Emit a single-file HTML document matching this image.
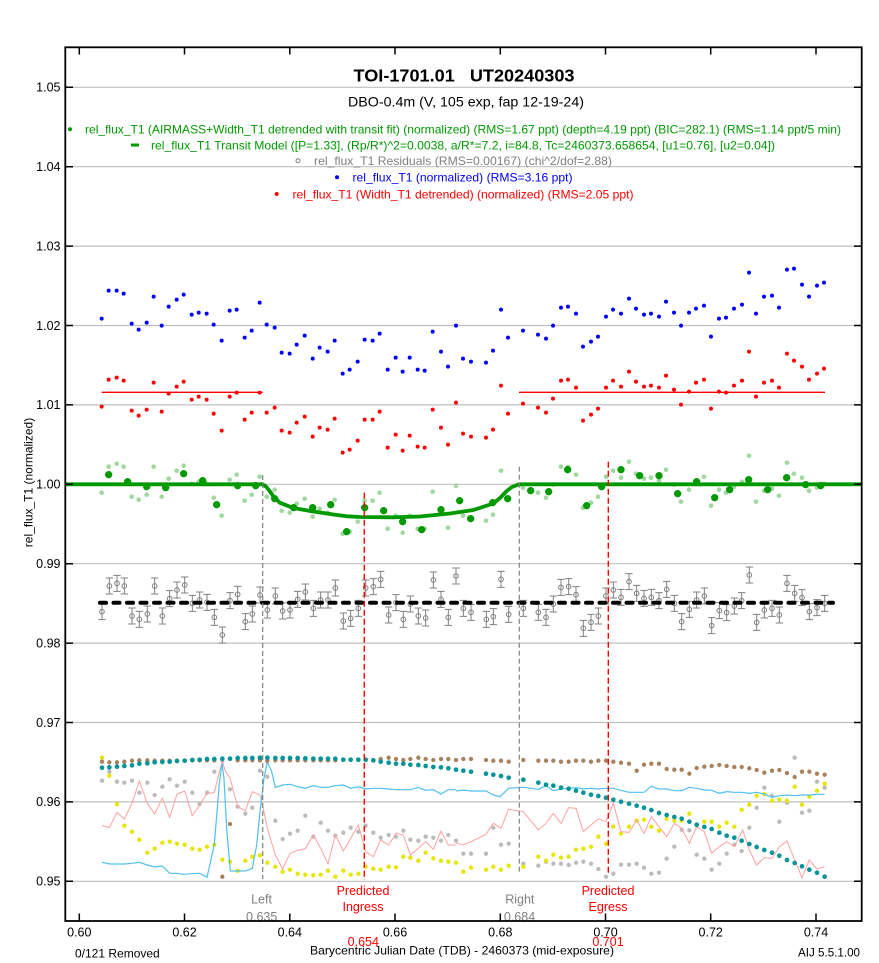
<!DOCTYPE html>
<html><head><meta charset="utf-8"><style>
html,body{margin:0;padding:0;background:#fff;}
svg{display:block;font-family:"Liberation Sans",Arial,sans-serif;}
</style></head><body>
<svg width="879" height="963" viewBox="0 0 879 963" xmlns="http://www.w3.org/2000/svg">
<rect width="879" height="963" fill="#fff"/>
<defs>
<g id="eb" fill="none" stroke="#808080" stroke-width="3"><path d="M-11-24h22M0-24v48M-11 24h22"/><circle r="7"/></g>
</defs>
<!-- grid -->
<g stroke="#c0c0c0" stroke-width="1.2">
<path d="M66 87.3H861M66 166.7H861M66 246.1H861M66 325.5H861M66 404.9H861M66 484.3H861M66 563.7H861M66 643.1H861M66 722.5H861M66 801.9H861M66 881.3H861"/>
</g>
<!-- titles -->
<text x="353.5" y="81.7" font-size="17.5" font-weight="bold" textLength="221" lengthAdjust="spacingAndGlyphs">TOI-1701.01&#160;&#160;&#160;UT20240303</text>
<text x="348" y="106.7" font-size="14" textLength="236" lengthAdjust="spacingAndGlyphs">DBO-0.4m (V, 105 exp, fap 12-19-24)</text>
<!-- legend -->
<circle cx="70" cy="129.3" r="2" fill="#009900"/>
<text x="85" y="133.6" font-size="12" fill="#009900" textLength="756" lengthAdjust="spacingAndGlyphs">rel_flux_T1 (AIRMASS+Width_T1 detrended with transit fit) (normalized) (RMS=1.67 ppt) (depth=4.19 ppt) (BIC=282.1) (RMS=1.14 ppt/5 min)</text>
<rect x="131" y="143.5" width="8" height="3" fill="#009900"/>
<text x="151" y="149.4" font-size="12" fill="#009900" textLength="624" lengthAdjust="spacingAndGlyphs">rel_flux_T1 Transit Model ([P=1.33], (Rp/R*)^2=0.0038, a/R*=7.2, i=84.8, Tc=2460373.658654, [u1=0.76], [u2=0.04])</text>
<circle cx="298" cy="160.7" r="2" fill="none" stroke="#808080" stroke-width="1"/>
<text x="314" y="165" font-size="12" fill="#808080" textLength="298" lengthAdjust="spacingAndGlyphs">rel_flux_T1 Residuals (RMS=0.00167) (chi^2/dof=2.88)</text>
<circle cx="337" cy="177.3" r="2" fill="#0000ff"/>
<text x="352.5" y="181.6" font-size="12" fill="#0000ff" textLength="220" lengthAdjust="spacingAndGlyphs">rel_flux_T1 (normalized) (RMS=3.16 ppt)</text>
<circle cx="276.7" cy="194" r="2" fill="#ff0000"/>
<text x="292.5" y="198.3" font-size="12" fill="#ff0000" textLength="341" lengthAdjust="spacingAndGlyphs">rel_flux_T1 (Width_T1 detrended) (normalized) (RMS=2.05 ppt)</text>

<!-- bottom series -->
<g transform="translate(60,745) scale(0.333333)" fill="none" stroke-linecap="round">
<path stroke="#bbbbbb" stroke-width="13" d="M126 107h0M148 80h0M171 110h0M193 113h0M216 107h0M238 143h0M262 113h0M284 150h0M307 125h0M329 103h0M351 122h0M374 110h0M397 143h0M419 177h0M441 143h0M463 80h0M487 48h0M510 133h0M533 185h0M556 206h0M577 188h0M600 77h0M622 95h0M646 227h0M668 282h0M690 266h0M713 257h0M736 212h0M760 275h0M782 233h0M804 257h0M826 272h0M850 263h0M872 248h0M895 260h0M917 242h0M940 263h0M962 278h0M986 270h0M1008 275h0M1030 257h0M1051 284h0M1075 287h0M1097 275h0M1120 278h0M1143 287h0M1165 270h0"/>
<path stroke="#e6e600" stroke-width="13" d="M126 38h0M148 92h0M171 178h0M193 242h0M216 260h0M238 284h0M262 323h0M284 311h0M307 293h0M329 290h0M351 296h0M374 299h0M397 311h0M419 314h0M441 305h0M463 299h0M487 344h0M510 350h0M533 377h0M556 347h0M577 335h0M600 331h0M622 353h0M646 365h0M668 380h0M690 374h0M713 386h0M736 389h0M760 391h0M782 389h0M804 377h0M826 395h0M850 377h0M872 389h0M895 386h0M917 365h0M940 371h0M962 374h0M986 365h0M1008 367h0M1030 335h0M1051 338h0M1075 347h0M1097 323h0M1120 340h0M1143 347h0M1165 350h0"/>
<polyline vector-effect="non-scaling-stroke" stroke="#ffa0a0" stroke-width="1" stroke-linecap="butt" points="126,242 148,248 171,202 193,222 216,175 238,108 262,175 284,207 307,160 329,217 351,147 374,138 397,212 419,180 441,145 463,143 478,80 487,50 497,80 510,100 533,185 556,197 577,140 600,150 612,200 622,250 646,330 668,372 690,325 713,316 736,311 760,270 782,310 804,356 826,270 850,318 872,280 895,240 917,320 940,335 962,285 986,300 1008,265 1030,270 1051,330 1075,310 1097,290 1120,313 1143,258 1165,300 1188,300"/>
<polyline vector-effect="non-scaling-stroke" stroke="#50c0f0" stroke-width="1.2" stroke-linecap="butt" points="126,352 150,357 171,357 193,357 216,355 238,352 262,360 284,366 307,363 329,385 351,385 374,388 397,386 419,385 441,397 463,298 478,115 486,55 492,100 500,250 511,378 533,378 556,378 577,370 590,300 600,200 612,100 622,50 635,80 646,127 668,120 690,118 713,125 736,130 760,122 782,127 804,127 826,122 850,120 872,130 895,125 917,132 940,130 962,130 986,132 1008,134 1030,134 1051,134 1075,127 1097,136 1120,134 1143,147 1165,134 1188,134"/>
<path stroke="#a8805c" stroke-width="13" d="M126 50h0M148 52h0M171 52h0M193 50h0M216 47h0M238 46h0M262 46h0M284 47h0M307 47h0M329 47h0M351 47h0M374 47h0M397 46h0M419 46h0M441 46h0M463 46h0M487 395h0M510 237h0M533 46h0M556 46h0M577 46h0M600 46h0M622 48h0M646 46h0M668 46h0M690 46h0M713 46h0M736 46h0M760 46h0M782 46h0M804 46h0M826 46h0M850 44h0M872 44h0M895 44h0M917 44h0M940 46h0M962 42h0M986 38h0M1008 42h0M1030 45h0M1051 42h0M1075 38h0M1097 42h0M1120 45h0M1143 42h0M1165 42h0"/>
<path stroke="#009499" stroke-width="14" d="M126 68h0M148 67h0M171 65h0M193 63h0M216 61h0M238 56h0M262 55h0M284 52h0M307 51h0M329 50h0M351 48h0M374 47h0M397 45h0M419 44h0M441 42h0M463 42h0M487 41h0M510 41h0M533 39h0M556 39h0M577 39h0M600 38h0M622 38h0M646 39h0M668 39h0M690 39h0M713 39h0M736 40h0M760 41h0M782 41h0M804 41h0M826 41h0M850 44h0M872 44h0M895 44h0M917 44h0M940 46h0M962 50h0M986 53h0M1008 56h0M1030 56h0M1051 59h0M1075 60h0M1097 63h0M1120 66h0M1143 67h0M1165 70h0"/>
</g>
<g transform="translate(450,745) scale(0.333333)" fill="none" stroke-linecap="round">
<path stroke="#bbbbbb" stroke-width="13" d="M18 287h0M40 326h0M63 326h0M108 326h0M130 248h0M153 299h0M176 296h0M220 356h0M265 362h0M288 350h0M310 356h0M333 356h0M356 360h0M378 353h0M400 350h0M423 356h0M445 372h0M468 395h0M490 386h0M513 359h0M537 359h0M560 356h0M582 368h0M604 386h0M627 383h0M650 341h0M673 305h0M695 254h0M718 256h0M740 329h0M763 341h0M785 374h0M808 356h0M830 326h0M853 299h0M875 318h0M898 248h0M920 188h0M943 128h0M966 152h0M988 230h0M1011 173h0M1034 38h0M1056 203h0M1078 197h0M1101 110h0M1124 128h0"/>
<path stroke="#e6e600" stroke-width="13" d="M18 353h0M40 380h0M63 368h0M108 374h0M130 365h0M153 374h0M176 362h0M220 365h0M265 335h0M288 347h0M310 329h0M333 338h0M356 335h0M378 314h0M400 311h0M423 305h0M445 275h0M468 296h0M490 245h0M513 266h0M537 245h0M560 227h0M582 224h0M604 245h0M627 257h0M650 221h0M673 227h0M695 227h0M718 206h0M740 239h0M763 230h0M785 230h0M808 245h0M830 233h0M853 245h0M875 194h0M898 179h0M920 152h0M943 147h0M966 167h0M988 164h0M1011 167h0M1034 125h0M1056 179h0M1078 155h0M1101 137h0M1124 116h0"/>
<polyline vector-effect="non-scaling-stroke" stroke="#ffa0a0" stroke-width="1" stroke-linecap="butt" points="18,293 40,300 63,290 108,268 130,235 153,250 176,193 220,200 265,255 288,235 310,205 333,235 356,188 378,190 400,260 423,240 445,222 468,230 490,175 513,260 537,262 560,225 582,265 604,215 627,245 650,275 673,235 695,250 718,295 740,245 763,260 785,325 808,305 830,290 853,305 878,255 898,315 920,360 943,338 966,340 988,305 1011,288 1034,345 1056,398 1078,345 1101,372 1124,365"/>
<polyline vector-effect="non-scaling-stroke" stroke="#50c0f0" stroke-width="1.2" stroke-linecap="butt" points="18,138 40,135 63,138 108,138 130,150 150,155 176,130 220,127 245,130 265,133 288,122 310,137 333,132 356,130 378,128 400,132 423,130 445,132 468,130 490,130 513,136 537,142 560,142 582,142 604,124 627,132 650,132 673,137 695,137 718,127 740,130 763,135 785,136 808,145 830,140 853,142 875,142 898,145 920,142 943,147 966,157 988,152 1011,150 1034,152 1056,150 1078,150 1101,148 1124,148"/>
<path stroke="#a8805c" stroke-width="13" d="M18 45h0M40 42h0M63 42h0M108 45h0M130 47h0M153 47h0M176 50h0M220 45h0M265 47h0M288 47h0M310 47h0M333 50h0M356 50h0M378 47h0M400 47h0M423 50h0M445 47h0M468 47h0M490 50h0M513 53h0M537 56h0M560 77h0M582 59h0M604 56h0M627 56h0M650 72h0M673 74h0M695 74h0M718 86h0M740 69h0M763 65h0M785 63h0M808 60h0M830 63h0M853 66h0M875 66h0M898 70h0M920 75h0M943 83h0M966 77h0M988 75h0M1011 84h0M1034 96h0M1056 80h0M1078 80h0M1101 86h0M1124 89h0"/>
<path stroke="#009499" stroke-width="14" d="M18 74h0M40 77h0M63 80h0M108 86h0M130 89h0M153 93h0M176 98h0M220 104h0M265 113h0M288 119h0M310 122h0M333 128h0M356 131h0M378 137h0M400 143h0M423 149h0M445 153h0M468 158h0M490 164h0M513 170h0M537 176h0M560 182h0M582 188h0M604 195h0M627 204h0M650 210h0M673 216h0M695 221h0M718 230h0M740 239h0M763 246h0M785 252h0M808 263h0M830 272h0M853 278h0M875 287h0M898 297h0M920 306h0M943 315h0M966 323h0M988 332h0M1011 345h0M1034 354h0M1056 364h0M1078 374h0M1101 383h0M1124 395h0"/>
</g>

<!-- residuals -->
<g transform="translate(60,560) scale(0.333333)">
<use href="#eb" x="126" y="155"/><use href="#eb" x="148" y="78"/><use href="#eb" x="171" y="70"/><use href="#eb" x="193" y="78"/><use href="#eb" x="216" y="168"/><use href="#eb" x="238" y="178"/><use href="#eb" x="262" y="162"/><use href="#eb" x="284" y="78"/><use href="#eb" x="307" y="168"/><use href="#eb" x="329" y="116"/><use href="#eb" x="351" y="90"/><use href="#eb" x="374" y="75"/><use href="#eb" x="397" y="130"/><use href="#eb" x="419" y="120"/><use href="#eb" x="441" y="127"/><use href="#eb" x="463" y="172"/><use href="#eb" x="487" y="225"/><use href="#eb" x="510" y="122"/><use href="#eb" x="533" y="103"/><use href="#eb" x="556" y="185"/><use href="#eb" x="577" y="162"/><use href="#eb" x="600" y="105"/><use href="#eb" x="622" y="150"/><use href="#eb" x="646" y="108"/><use href="#eb" x="668" y="153"/><use href="#eb" x="690" y="150"/><use href="#eb" x="713" y="118"/><use href="#eb" x="736" y="96"/><use href="#eb" x="760" y="145"/><use href="#eb" x="782" y="120"/><use href="#eb" x="804" y="120"/><use href="#eb" x="826" y="84"/><use href="#eb" x="850" y="183"/><use href="#eb" x="872" y="175"/><use href="#eb" x="895" y="145"/><use href="#eb" x="917" y="84"/><use href="#eb" x="940" y="80"/><use href="#eb" x="962" y="58"/><use href="#eb" x="986" y="165"/><use href="#eb" x="1008" y="128"/><use href="#eb" x="1030" y="178"/><use href="#eb" x="1051" y="132"/><use href="#eb" x="1075" y="168"/><use href="#eb" x="1097" y="174"/><use href="#eb" x="1120" y="60"/><use href="#eb" x="1143" y="118"/><use href="#eb" x="1165" y="172"/>
</g>
<g transform="translate(450,560) scale(0.333333)">
<use href="#eb" x="18" y="48"/><use href="#eb" x="40" y="145"/><use href="#eb" x="63" y="157"/><use href="#eb" x="109" y="178"/><use href="#eb" x="130" y="170"/><use href="#eb" x="153" y="58"/><use href="#eb" x="176" y="163"/><use href="#eb" x="220" y="145"/><use href="#eb" x="265" y="157"/><use href="#eb" x="288" y="172"/><use href="#eb" x="310" y="132"/><use href="#eb" x="333" y="82"/><use href="#eb" x="356" y="80"/><use href="#eb" x="378" y="104"/><use href="#eb" x="400" y="205"/><use href="#eb" x="423" y="187"/><use href="#eb" x="445" y="168"/><use href="#eb" x="468" y="108"/><use href="#eb" x="490" y="90"/><use href="#eb" x="513" y="112"/><use href="#eb" x="537" y="65"/><use href="#eb" x="560" y="100"/><use href="#eb" x="582" y="115"/><use href="#eb" x="604" y="112"/><use href="#eb" x="627" y="122"/><use href="#eb" x="650" y="88"/><use href="#eb" x="673" y="130"/><use href="#eb" x="695" y="185"/><use href="#eb" x="718" y="148"/><use href="#eb" x="740" y="120"/><use href="#eb" x="763" y="108"/><use href="#eb" x="785" y="197"/><use href="#eb" x="808" y="152"/><use href="#eb" x="830" y="158"/><use href="#eb" x="853" y="138"/><use href="#eb" x="875" y="122"/><use href="#eb" x="898" y="45"/><use href="#eb" x="920" y="187"/><use href="#eb" x="943" y="150"/><use href="#eb" x="966" y="145"/><use href="#eb" x="988" y="165"/><use href="#eb" x="1011" y="70"/><use href="#eb" x="1034" y="100"/><use href="#eb" x="1056" y="113"/><use href="#eb" x="1078" y="155"/><use href="#eb" x="1101" y="143"/><use href="#eb" x="1124" y="130"/>
</g>
<path d="M100 602.7H833" stroke="#000" stroke-width="4" stroke-dasharray="6,7.5" stroke-linecap="round" fill="none"/>

<!-- red fit lines -->
<path d="M101.7 392.3H262.7M519 392.3H825" stroke="#ff0000" stroke-width="1.3" fill="none"/>

<!-- main series left -->
<g transform="translate(60,250) scale(0.333333)" fill="none" stroke-linecap="round">
<path stroke="#0000ff" stroke-width="12" d="M125 206h0M146 122h0M170 122h0M191 131h0M215 221h0M236 239h0M260 218h0M281 140h0M305 227h0M326 170h0M350 149h0M371 134h0M395 194h0M416 188h0M440 191h0M461 224h0M485 272h0M509 182h0M530 179h0M554 263h0M575 242h0M599 158h0M620 224h0M644 233h0M665 308h0M689 311h0M710 284h0M734 257h0M758 326h0M779 293h0M803 305h0M824 272h0M848 371h0M869 359h0M893 335h0M914 269h0M938 272h0M959 251h0M983 359h0M1007 323h0M1028 365h0M1049 323h0M1073 359h0M1094 362h0M1118 245h0"/>
<path stroke="#ff0000" stroke-width="12" d="M125 470h0M146 389h0M170 383h0M191 392h0M215 482h0M236 497h0M260 479h0M281 398h0M305 485h0M326 431h0M350 410h0M371 395h0M395 449h0M416 440h0M440 449h0M461 491h0M485 542h0M509 440h0M530 428h0M554 509h0M575 488h0M599 428h0M620 488h0M644 473h0M665 542h0M689 548h0M710 518h0M734 500h0M758 560h0M779 533h0M803 539h0M824 506h0M848 608h0M869 599h0M893 572h0M914 509h0M938 509h0M959 485h0M983 593h0M1007 554h0M1028 602h0M1049 557h0M1073 590h0M1094 593h0M1118 479h0"/>
<path stroke="#a0d8a0" stroke-width="14" d="M125 728h0M146 650h0M170 641h0M191 650h0M215 740h0M236 749h0M260 734h0M281 650h0M305 740h0M326 686h0M350 662h0M371 647h0M395 701h0M416 695h0M440 701h0M461 743h0M485 797h0M509 689h0M530 674h0M554 752h0M575 734h0M599 680h0M620 740h0M644 719h0M665 782h0M689 788h0M710 761h0M734 746h0M758 800h0M779 776h0M803 788h0M824 749h0M848 851h0M869 845h0M893 815h0M914 752h0M938 752h0M959 728h0M983 836h0M1007 797h0M1028 848h0M1049 797h0M1073 836h0M1094 836h0M1118 725h0"/>
</g>
<g transform="translate(440,250) scale(0.333333)" fill="none" stroke-linecap="round">
<path stroke="#0000ff" stroke-width="12" d="M3 305h0M24 350h0M48 227h0M69 326h0M93 335h0M138 338h0M159 302h0M183 179h0M204 263h0M249 242h0M294 254h0M318 266h0M339 227h0M363 173h0M384 170h0M408 191h0M429 290h0M453 275h0M474 260h0M498 200h0M519 179h0M543 191h0M567 146h0M588 176h0M612 194h0M633 191h0M657 200h0M678 155h0M702 188h0M723 227h0M747 188h0M768 176h0M792 167h0M813 260h0M837 206h0M858 203h0M882 176h0M906 164h0M927 68h0M948 191h0M972 140h0M996 137h0M1017 173h0M1041 59h0M1062 56h0M1086 104h0M1107 140h0M1131 107h0M1152 98h0"/>
<path stroke="#ff0000" stroke-width="12" d="M3 533h0M24 584h0M48 458h0M69 551h0M93 560h0M138 563h0M159 539h0M183 407h0M204 491h0M249 461h0M294 473h0M318 488h0M339 446h0M363 392h0M384 389h0M408 413h0M429 512h0M453 494h0M474 476h0M498 413h0M519 392h0M543 410h0M567 365h0M588 395h0M612 410h0M633 407h0M657 413h0M678 377h0M702 419h0M723 464h0M747 425h0M768 398h0M792 389h0M813 476h0M837 425h0M858 428h0M882 407h0M906 392h0M927 305h0M948 440h0M972 398h0M996 392h0M1017 413h0M1041 311h0M1062 332h0M1086 350h0M1107 389h0M1131 371h0M1152 356h0"/>
<path stroke="#a0d8a0" stroke-width="14" d="M3 779h0M24 833h0M48 707h0M69 797h0M93 806h0M138 812h0M159 794h0M183 662h0M204 746h0M249 713h0M294 728h0M318 743h0M339 704h0M363 650h0M384 651h0M408 674h0M429 773h0M453 758h0M474 740h0M498 680h0M519 662h0M543 683h0M567 635h0M588 671h0M612 686h0M633 683h0M657 692h0M678 659h0M702 704h0M723 755h0M747 719h0M768 693h0M792 680h0M813 767h0M837 719h0M858 728h0M882 710h0M906 695h0M927 617h0M948 755h0M972 722h0M996 716h0M1017 737h0M1041 638h0M1062 671h0M1086 683h0M1107 722h0M1131 713h0M1152 701h0"/>
</g>

<!-- model -->
<path d="M66 484.3H262.7L266 486.5L270 491.5L274 497.3L280 502.8L293.3 508L313.3 511.5L333.3 514.5L346.7 516.3L360 517L393 517.3L420 516.5L440 514.5L450 513.5L473.3 510L493.3 503.5L500 498L506.7 491L512 487L519 484.3H861" stroke="#009900" stroke-width="3.8" fill="none" stroke-linejoin="round"/>

<!-- binned -->
<g transform="translate(60,250) scale(0.333333)" fill="none" stroke-linecap="round">
<path stroke="#009900" stroke-width="22" d="M146 674h0M203 695h0M260 710h0M317 713h0M371 671h0M428 692h0M470 764h0M533 707h0M587 707h0M644 746h0M701 773h0M758 773h0M812 764h0M860 845h0M914 773h0M971 782h0M1028 815h0M1085 839h0"/>
</g>
<g transform="translate(440,250) scale(0.333333)" fill="none" stroke-linecap="round">
<path stroke="#009900" stroke-width="22" d="M3 779h0M59 752h0M92 806h0M158 758h0M203 746h0M272 722h0M326 725h0M383 659h0M440 767h0M485 710h0M543 659h0M599 677h0M657 677h0M713 731h0M770 695h0M824 743h0M869 719h0M926 689h0M983 719h0M1040 683h0M1097 704h0M1142 707h0"/>
</g>

<!-- vertical marker lines -->
<path d="M262.7 475V879M519.3 466.7V872" stroke="#808080" stroke-width="1.2" stroke-dasharray="5,3" fill="none"/>
<path d="M364.3 492.7V880M608.3 461.7V875" stroke="#ff0000" stroke-width="1.4" stroke-dasharray="6,3" fill="none"/>

<!-- marker labels -->
<g font-size="12.5" text-anchor="middle">
<text x="261.5" y="903.3" fill="#808080">Left</text>
<text x="261.7" y="921" fill="#808080">0.635</text>
<text x="363" y="895" fill="#ff0000">Predicted</text>
<text x="363" y="911" fill="#ff0000">Ingress</text>
<text x="519.8" y="903.3" fill="#808080">Right</text>
<text x="519.5" y="921" fill="#808080">0.684</text>
<text x="608" y="895" fill="#ff0000">Predicted</text>
<text x="608" y="911" fill="#ff0000">Egress</text>
<text x="363.3" y="946" fill="#ff0000">0.654</text>
<text x="608" y="946" fill="#ff0000">0.701</text>
</g>

<!-- axes box -->
<rect x="65.3" y="47.3" width="796.4" height="873.7" fill="none" stroke="#000" stroke-width="1.8"/>
<g stroke="#000" stroke-width="1.5">
<path d="M65 87.3h8M65 166.7h8M65 246.1h8M65 325.5h8M65 404.9h8M65 484.3h8M65 563.7h8M65 643.1h8M65 722.5h8M65 801.9h8M65 881.3h8"/>
<path d="M862 87.3h-8M862 166.7h-8M862 246.1h-8M862 325.5h-8M862 404.9h-8M862 484.3h-8M862 563.7h-8M862 643.1h-8M862 722.5h-8M862 801.9h-8M862 881.3h-8"/>
<path d="M79.3 921v-7.5M184.5 921v-7.5M289.8 921v-7.5M395 921v-7.5M500.3 921v-7.5M605.5 921v-7.5M710.7 921v-7.5M816 921v-7.5"/>
<path d="M79.3 47v7.5M184.5 47v7.5M289.8 47v7.5M395 47v7.5M500.3 47v7.5M605.5 47v7.5M710.7 47v7.5M816 47v7.5"/>
</g>

<!-- y tick labels -->
<g font-size="12.5" text-anchor="end" fill="#000">
<text x="60.5" y="91.6">1.05</text>
<text x="60.5" y="171">1.04</text>
<text x="60.5" y="250.4">1.03</text>
<text x="60.5" y="329.8">1.02</text>
<text x="60.5" y="409.2">1.01</text>
<text x="60.5" y="488.6">1.00</text>
<text x="60.5" y="568">0.99</text>
<text x="60.5" y="647.4">0.98</text>
<text x="60.5" y="726.8">0.97</text>
<text x="60.5" y="806.2">0.96</text>
<text x="60.5" y="885.6">0.95</text>
</g>
<!-- x tick labels -->
<g font-size="12.5" text-anchor="middle" fill="#000">
<text x="79.3" y="936.7">0.60</text>
<text x="184.5" y="936.7">0.62</text>
<text x="289.8" y="936.7">0.64</text>
<text x="395" y="936.7">0.66</text>
<text x="500.3" y="936.7">0.68</text>
<text x="605.5" y="936.7">0.70</text>
<text x="710.7" y="936.7">0.72</text>
<text x="816" y="936.7">0.74</text>
</g>
<text x="28.5" y="482.5" font-size="12" text-anchor="middle" transform="rotate(-90 28.5 482.5)" dy="4">rel_flux_T1 (normalized)</text>
<text x="75" y="957.3" font-size="12">0/121 Removed</text>
<text x="310" y="954.5" font-size="12" textLength="304" lengthAdjust="spacingAndGlyphs">Barycentric Julian Date (TDB) - 2460373 (mid-exposure)</text>
<text x="798" y="956.7" font-size="12" textLength="62" lengthAdjust="spacingAndGlyphs">AIJ 5.5.1.00</text>
</svg>
</body></html>
